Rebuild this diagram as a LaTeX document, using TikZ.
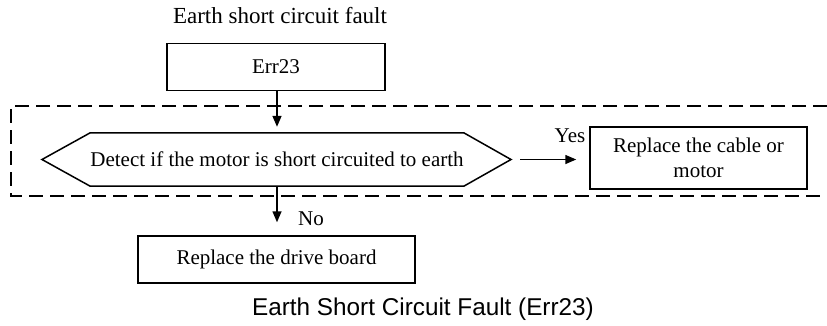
\documentclass[tikz,border=0pt]{standalone}
\usepackage{fontspec}
\setmainfont{Liberation Serif}
\newfontfamily\capfont{Liberation Sans}
\usetikzlibrary{arrows.meta,calc}
\tikzset{
 box/.style={draw, line width=1.5pt, inner sep=0pt, align=center},
 lbl/.style={inner sep=0pt},
 arr/.style={line width=1.5pt, -{Triangle[length=11pt,width=9pt]}},
 dashbox/.style={line width=1.5pt, dash pattern=on 14pt off 7pt},
 hexline/.style={line width=1.5pt},
}
\begin{document}
\begin{tikzpicture}[x=1pt,y=-1pt, font=\fontsize{21}{25}\selectfont]
\useasboundingbox (0,0) rectangle (827,325);
\node[lbl, font=\fontsize{23}{27}\selectfont] (title) at (280,16) {Earth short circuit fault};
\node[box, minimum width=218pt, minimum height=47pt] (err) at (276,67) {Err23};
\node[lbl, minimum width=320pt, minimum height=53pt] (det) at (277,159.5) {Detect if the motor is short circuited to earth};
\coordinate (detW) at (42,159.5);
\coordinate (detE) at (511,159.5);
\draw[hexline] (det.north west) -- (det.north east) -- (detE) -- (det.south east) -- (det.south west) -- (detW) -- cycle;
\node[box, minimum width=217pt, minimum height=62pt] (cable) at (698.5,158) {Replace the cable or\\motor};
\node[box, minimum width=277pt, minimum height=47pt] (drive) at (276.5,259.5) {Replace the drive board};
\node[lbl] (yes) at (570,136) {Yes};
\node[lbl] (no) at (311,219) {No};
\node[lbl, font=\capfont\fontsize{24.3}{29}\selectfont] (cap) at (423,309) {Earth Short Circuit Fault (Err23)};
\draw[dashbox] (827,106) -- (11,106) -- (11,196) -- (827,196);
\draw[arr, shorten >=6pt] (det.north |- err.south) -- (det.north);
\draw[arr, shorten >=13pt] (det.south) -- (det.south |- drive.north);
\draw[arr, shorten <=9pt, shorten >=13pt] (detE) -- (detE -| cable.west);
\end{tikzpicture}
\end{document}
